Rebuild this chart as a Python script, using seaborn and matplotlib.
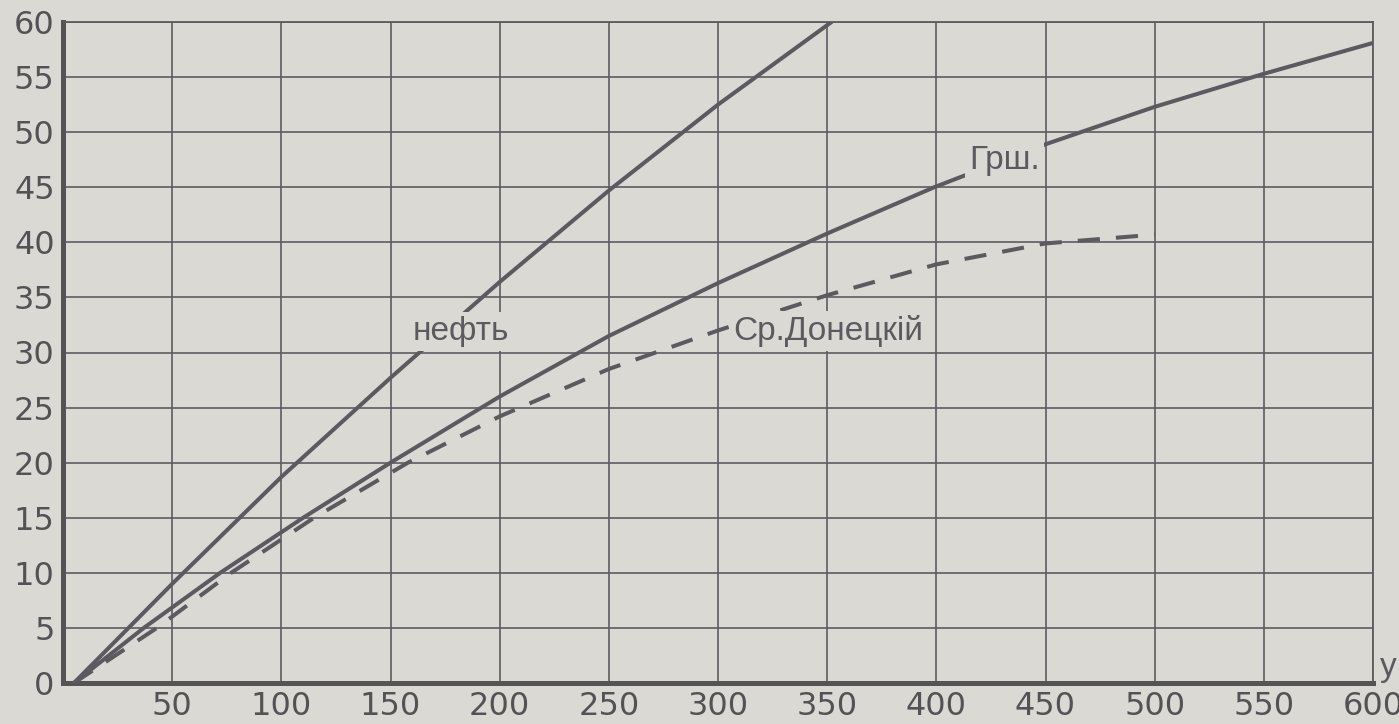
import pandas as pd
import numpy as np
import matplotlib.pyplot as plt
import seaborn as sns

sns.set_style('ticks')

# values
neft_x = [5, 50, 100, 150, 200, 250, 300, 352]
neft_y = [0, 9.0, 18.7, 27.7, 36.4, 44.7, 52.5, 60]

grsh_x = [5, 37, 72, 110, 150, 200, 250, 300, 350, 399, 450, 500, 550, 600]
grsh_y = [0, 5, 10, 15, 20, 26.0, 31.5, 36.3, 40.8, 45, 48.9, 52.3, 55.3, 58.1]

don_x = [5, 43, 77, 115, 158, 200, 250, 300, 350, 400, 450, 500]
don_y = [0, 5, 10, 15, 20, 24.2, 28.5, 32, 35.2, 38, 39.9, 40.7]

names = ['нефть', 'Грш.', 'Ср.Донецкій']
x_ticks = list(range(50, 601, 50))
y_ticks = list(range(0, 61, 5))

PAPER = '#dad9d4'
INK = '#5c5960'

df = pd.concat([
    pd.DataFrame({'x': neft_x, 'y': neft_y, 'fuel': names[0]}),
    pd.DataFrame({'x': grsh_x, 'y': grsh_y, 'fuel': names[1]}),
    pd.DataFrame({'x': don_x, 'y': don_y, 'fuel': names[2]}),
])

fig = plt.figure(figsize=(13.99, 7.24), dpi=100, facecolor=PAPER)
ax = fig.add_axes([63 / 1399, 1 - 683 / 724, (1373 - 63) / 1399, (683 - 22) / 724])
ax.set_facecolor(PAPER)

sns.lineplot(data=df, x='x', y='y', hue='fuel', style='fuel', sort=False, estimator=None,
             palette={n: INK for n in names},
             dashes={names[0]: '', names[1]: '', names[2]: (5.5, 4)},
             linewidth=2.9, legend=False, ax=ax, zorder=3)

ax.set_xlim(0, 600)
ax.set_ylim(0, 60)
ax.set_xticks(x_ticks)
ax.set_yticks(y_ticks)
ax.set_xlabel('')
ax.set_ylabel('')
ax.grid(True, color=INK, linewidth=1.3, alpha=0.9)
ax.set_axisbelow(True)
ax.tick_params(length=0, labelsize=23, labelcolor='#545157', pad=6)
for lbl in ax.get_xticklabels() + ax.get_yticklabels():
    lbl.set_family('DejaVu Sans')

for side in ['left', 'bottom']:
    ax.spines[side].set_linewidth(3.6)
    ax.spines[side].set_color('#555355')
for side in ['top', 'right']:
    ax.spines[side].set_linewidth(1.3)
    ax.spines[side].set_color(INK)

box = dict(facecolor=PAPER, edgecolor='none', pad=3)
lab = dict(fontsize=24, color=INK, family='Liberation Sans', va='baseline', ha='left', zorder=5)
ax.text(160, 31.1, names[0], bbox=box, **lab)
ax.text(415, 46.7, names[1], bbox=box, **lab)
ax.text(307, 31.1, names[2], bbox=box, **lab)
ax.text(603, 0.6, 'y', clip_on=False, **lab)

plt.savefig('out.png', dpi=100, facecolor=PAPER)
